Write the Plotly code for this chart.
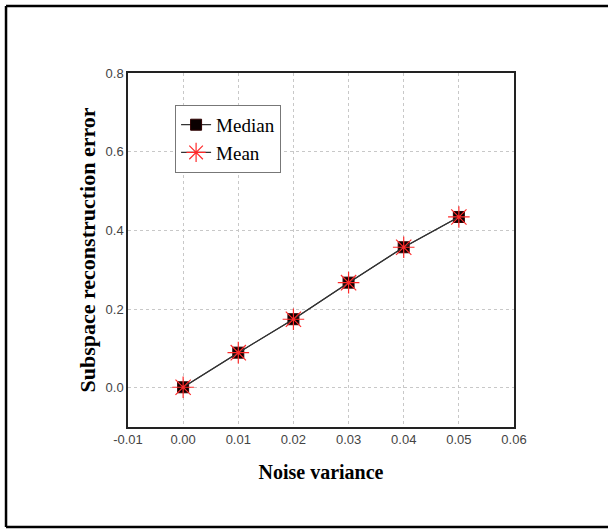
import plotly.graph_objects as go

noise_variance = [0.00, 0.01, 0.02, 0.03, 0.04, 0.05]
median_err = [0.001, 0.089, 0.174, 0.267, 0.357, 0.434]
mean_err = [0.001, 0.089, 0.174, 0.267, 0.357, 0.434]

x_ticks = [-0.01, 0.00, 0.01, 0.02, 0.03, 0.04, 0.05, 0.06]
x_tick_labels = ["-0.01", "0.00", "0.01", "0.02", "0.03", "0.04", "0.05", "0.06"]
y_ticks = [0.0, 0.2, 0.4, 0.6, 0.8]
y_tick_labels = ["0.0", "0.2", "0.4", "0.6", "0.8"]

fig = go.Figure()
fig.add_trace(go.Scatter(
    x=noise_variance, y=median_err, name="Median", mode="lines+markers",
    line=dict(color="#333333", width=1.2),
    marker=dict(symbol="square", size=11, color="#0a0000",
                line=dict(color="#300000", width=1)),
))
fig.add_trace(go.Scatter(
    x=noise_variance, y=mean_err, name="Mean", mode="lines+markers",
    line=dict(color="#333333", width=1.2),
    marker=dict(symbol="asterisk-open", size=18, color="#ff2a2a",
                line=dict(color="#ff2a2a", width=1.2)),
))

frame = dict(color="black", width=2.5)
x0, x1, y0, y1 = -0.316, 1.32, -0.2825, 1.189
fig.update_layout(
    width=608, height=529,
    margin=dict(l=128, r=94, t=73, b=102),
    paper_bgcolor="white", plot_bgcolor="white",
    showlegend=True,
    legend=dict(
        x=0.122, y=0.91, xanchor="left", yanchor="top",
        bgcolor="white", bordercolor="#777777", borderwidth=1,
        font=dict(family="Liberation Serif, Times New Roman, serif", size=19, color="black"),
        itemwidth=30, tracegroupgap=0,
    ),
    shapes=[
        dict(type="line", xref="paper", yref="paper", x0=x0, x1=x1, y0=y1, y1=y1, line=frame, layer="below"),
        dict(type="line", xref="paper", yref="paper", x0=x0, x1=x1, y0=y0, y1=y0, line=frame, layer="below"),
        dict(type="line", xref="paper", yref="paper", x0=x0, x1=x0, y0=y0, y1=y1, line=frame, layer="below"),
    ],
)
fig.update_xaxes(
    range=[-0.01, 0.06], tickvals=x_ticks, ticktext=x_tick_labels,
    showline=True, linecolor="#222222", linewidth=1.5, mirror=True,
    showgrid=True, gridcolor="#c8c8c8", griddash="dot", gridwidth=1,
    zeroline=False, ticks="",
    tickfont=dict(family="Liberation Sans, Arial, sans-serif", size=13, color="#444444"),
    title=dict(text="<b>Noise variance</b>", standoff=19,
               font=dict(family="Liberation Serif, Times New Roman, serif", size=20, color="black")),
)
fig.update_yaxes(
    range=[-0.1, 0.8], tickvals=y_ticks, ticktext=y_tick_labels,
    showline=True, linecolor="#222222", linewidth=1.5, mirror=True,
    showgrid=True, gridcolor="#c8c8c8", griddash="dot", gridwidth=1,
    zeroline=False, ticks="",
    tickfont=dict(family="Liberation Sans, Arial, sans-serif", size=13, color="#444444"),
    title=dict(text="<b>Subspace reconstruction error</b>", standoff=4,
               font=dict(family="Liberation Serif, Times New Roman, serif", size=22, color="black")),
)

fig.write_html("out.html", config={"displayModeBar": False},
               post_script="document.body.style.margin='0px';document.body.style.overflow='hidden';")
